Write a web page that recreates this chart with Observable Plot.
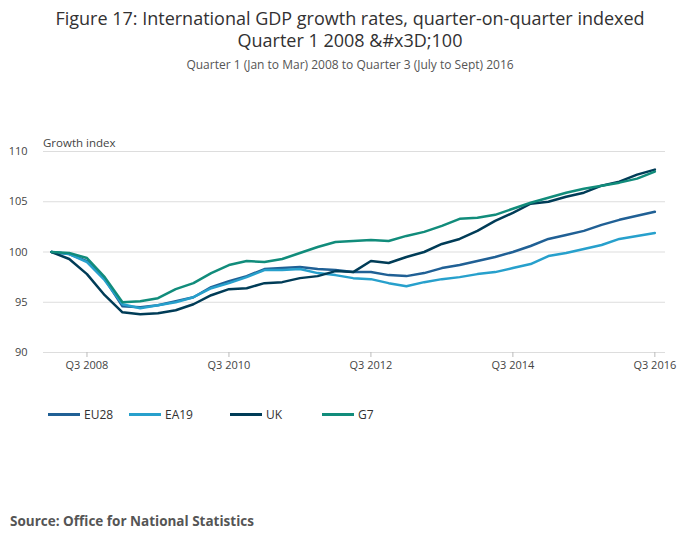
<!DOCTYPE html>
<html><head><meta charset="utf-8">
<script src="https://cdn.jsdelivr.net/npm/d3@7"></script>
<script src="https://cdn.jsdelivr.net/npm/@observablehq/plot@0.6"></script>
<style>
body{margin:0;font-family:"Open Sans",sans-serif;color:#323132;background:#fff}
#wrap{position:relative;width:700px;height:549px}
#title{position:absolute;top:7px;left:0;width:700px;text-align:center;font-size:18px;line-height:22px}
#sub{position:absolute;top:56px;left:0;width:700px;text-align:center;font-size:12px;color:#555}
#ylab{position:absolute;top:135px;left:43px;font-size:11.5px;color:#444}
#chart{position:absolute;top:100px;left:0}
#legend{position:absolute;top:406px;left:0;width:700px;height:20px;font-size:12px}
#legend span{position:absolute;display:inline-flex;align-items:center}
#legend i{display:inline-block;width:32px;height:3px;margin-right:4px}
#src{position:absolute;top:512px;left:10px;font-size:13.5px;font-weight:bold;color:#555}
</style></head><body>
<div id="wrap">
<div id="title">Figure 17: International GDP growth rates, quarter-on-quarter indexed<br>Quarter 1 2008 &amp;#x3D;100</div>
<div id="sub">Quarter 1 (Jan to Mar) 2008 to Quarter 3 (July to Sept) 2016</div>
<div id="ylab">Growth index</div>
<div id="chart"></div>
<div id="legend"></div>
<div id="src">Source: Office for National Statistics</div>
</div>
<script>
const series = ["EU28", "EA19", "UK", "G7"];
const colors = ["#206095", "#27a0cc", "#003c57", "#118c7b"];
const legendLeft = [48, 129, 230, 322];
const EU28 = [100,99.8,99.1,97.3,94.6,94.5,94.7,95.1,95.5,96.5,97.1,97.6,98.3,98.4,98.5,98.3,98.2,98.0,98.0,97.7,97.6,97.9,98.4,98.7,99.1,99.5,100.0,100.6,101.3,101.7,102.1,102.7,103.2,103.6,104.0];
const EA19 = [100,99.8,99.0,97.2,94.8,94.4,94.7,95.0,95.5,96.4,96.9,97.5,98.2,98.2,98.3,97.9,97.7,97.4,97.3,96.9,96.6,97.0,97.3,97.5,97.8,98.0,98.4,98.8,99.6,99.9,100.3,100.7,101.3,101.6,101.9];
const UK = [100,99.3,97.8,95.7,94.0,93.8,93.9,94.2,94.8,95.7,96.3,96.4,96.9,97.0,97.4,97.6,98.1,98.0,99.1,98.9,99.5,100.0,100.8,101.3,102.1,103.1,103.9,104.8,105.0,105.5,105.9,106.6,107.0,107.7,108.2];
const G7 = [100,99.9,99.4,97.5,95.0,95.1,95.4,96.3,96.9,97.9,98.7,99.1,99.0,99.3,99.9,100.5,101.0,101.1,101.2,101.1,101.6,102.0,102.6,103.3,103.4,103.7,104.3,104.9,105.4,105.9,106.3,106.6,106.9,107.3,108.0];
const tickIdx = [2, 10, 18, 26, 34];
const tickLabels = ["Q3 2008", "Q3 2010", "Q3 2012", "Q3 2014", "Q3 2016"];
const yTicks = [90, 95, 100, 105, 110];

const vals = {EU28, EA19, UK, G7};
const data = series.flatMap(s => vals[s].map((v, i) => ({s, i, v})));

const plot = Plot.plot({
  width: 700, height: 280,
  marginLeft: 43, marginRight: 35, marginTop: 51, marginBottom: 28,
  style: {fontFamily: "Open Sans", fontSize: "11px", color: "#444"},
  x: {domain: [-0.45, 34.6]},
  y: {domain: [90, 110]},
  color: {domain: series, range: colors},
  marks: [
    Plot.gridY(yTicks, {stroke: "#ddd", strokeOpacity: 1}),
    Plot.axisY(yTicks, {tickSize: 0, tickPadding: 16, label: null}),
    Plot.axisX(tickIdx, {tickSize: 5, stroke: "#bbb", tickPadding: 4, label: null,
      tickFormat: d => tickLabels[tickIdx.indexOf(d)]}),
    Plot.line(data, {x: "i", y: "v", z: "s", stroke: "s", strokeWidth: 2.5})
  ]
});
document.getElementById("chart").append(plot);
d3.select("#legend").selectAll("span").data(series).join("span")
  .style("left", (d, k) => legendLeft[k] + "px")
  .html((d, k) => `<i style="background:${colors[k]}"></i>${d}`);
</script>
</body></html>
